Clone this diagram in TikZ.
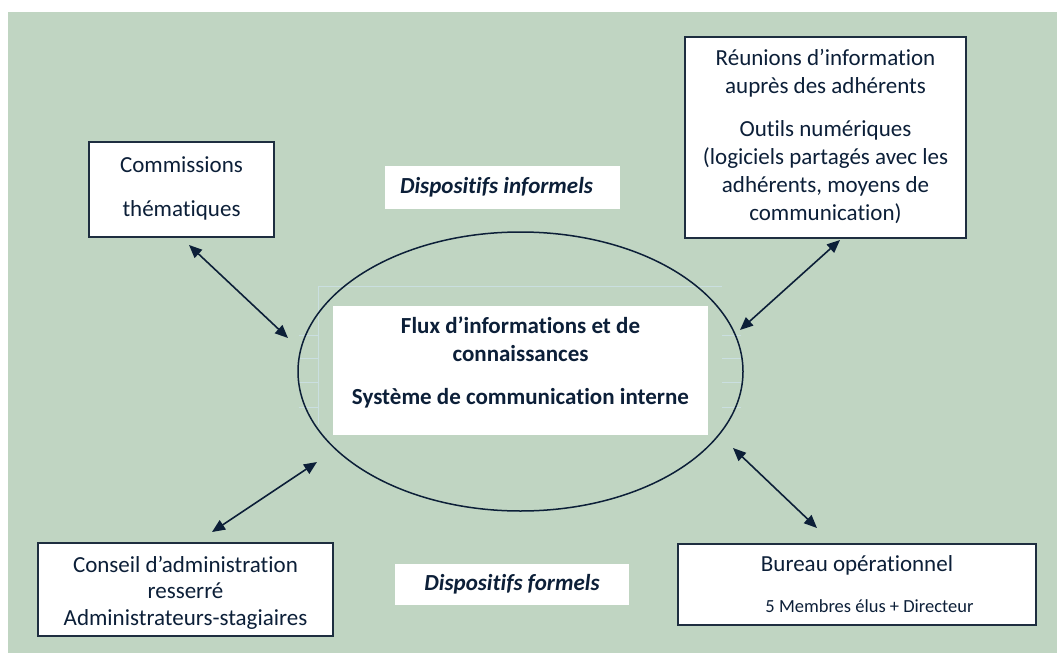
\documentclass[tikz,border=0pt]{standalone}
\usepackage{fontspec}
\setmainfont{Carlito}[Ligatures={NoCommon,NoContextual,NoRequired}]
\usetikzlibrary{shapes.geometric,arrows.meta}
\definecolor{bggreen}{HTML}{C0D5C2}
\definecolor{navy}{HTML}{0C1F38}
\definecolor{boxline}{HTML}{1E2E40}
\definecolor{faint}{HTML}{CADFE0}
\tikzset{
  box/.style={draw=boxline, line width=1.5pt, fill=white, inner sep=0pt},
  boxtext/.style={text=navy, align=center, inner sep=0pt, font=\fontsize{23}{28}\selectfont},
  label/.style={fill=white, text=navy, inner sep=0pt, font=\fontsize{23}{28}\selectfont\bfseries\itshape},
  link/.style={draw=navy, line width=1.6pt, {Triangle[length=13pt,width=11pt]}-{Triangle[length=13pt,width=11pt]}},
  faintline/.style={draw=faint, line width=0.6pt}
}
\begin{document}
\begin{tikzpicture}[x=1pt,y=-1pt]
\useasboundingbox (0,0) rectangle (1057,653);
\fill[white] (0,0) rectangle (1057,653);
\fill[bggreen] (8,12) rectangle (1057,653);
% faint table artefacts
\draw[faintline] (318,286) -- (722,286);
\draw[faintline] (318,286) -- (318,425);
\foreach \yy in {335,358,382,407}{
  \draw[faintline] (299,\yy) -- (318,\yy);
  \draw[faintline] (722,\yy) -- (741,\yy);
}
% ellipse
\node[draw=navy, line width=1.5pt, ellipse, minimum width=445pt, minimum height=279pt, inner sep=0pt] (ell) at (520.5,371.5) {};
% centre box
\node[fill=white, minimum width=375pt, minimum height=129pt, inner sep=0pt] (centre) at (520.5,370.5) {};
\node[text=navy, align=center, font=\fontsize{23}{28}\selectfont\bfseries] (centretxt) at (520.5,362) {Flux d’informations et de\\connaissances\\[15pt]Système de communication interne};
% boxes
\node[box, minimum width=185pt, minimum height=95pt] (comm) at (181.5,189.5) {};
\node[boxtext] (commtxt) at (181.5,188.5) {Commissions\\[16pt]thématiques};
\node[box, minimum width=281pt, minimum height=201pt] (reun) at (825.5,137.5) {};
\node[boxtext] (reuntxt) at (825.5,136.5) {Réunions d’information\\auprès des adhérents\\[15pt]Outils numériques\\(logiciels partagés avec les\\adhérents, moyens de\\communication)};
\node[box, minimum width=295pt, minimum height=93pt] (cons) at (185.5,589.5) {};
\node[boxtext] (constxt) at (185.5,592.5) {Conseil d’administration\\[-2pt]resserré\\[-1pt]Administrateurs-stagiaires};
\node[box, minimum width=358pt, minimum height=81pt] (bur) at (857,584.5) {};
\node[boxtext] (burtxt1) at (857,565) {Bureau opérationnel};
\node[boxtext, font=\fontsize{18.5}{24}\selectfont] (burtxt2) at (869.5,606) {5 Membres élus + Directeur};
% labels
\node[label, minimum width=235pt, minimum height=43pt] (inf) at (502.5,187.5) {\hspace*{-12pt}Dispositifs informels};
\node[label, minimum width=234pt, minimum height=41pt] (form) at (512,584.5) {Dispositifs formels};
% connectors
\coordinate (a1s) at (189,245); \coordinate (a1e) at (288,338);
\coordinate (a2s) at (840,240); \coordinate (a2e) at (740,330);
\coordinate (a3s) at (317,462); \coordinate (a3e) at (212,532);
\coordinate (a4s) at (733,448); \coordinate (a4e) at (817,528);
\draw[link] (a1s) -- (a1e);
\draw[link] (a2s) -- (a2e);
\draw[link] (a3s) -- (a3e);
\draw[link] (a4s) -- (a4e);
\end{tikzpicture}
\end{document}
